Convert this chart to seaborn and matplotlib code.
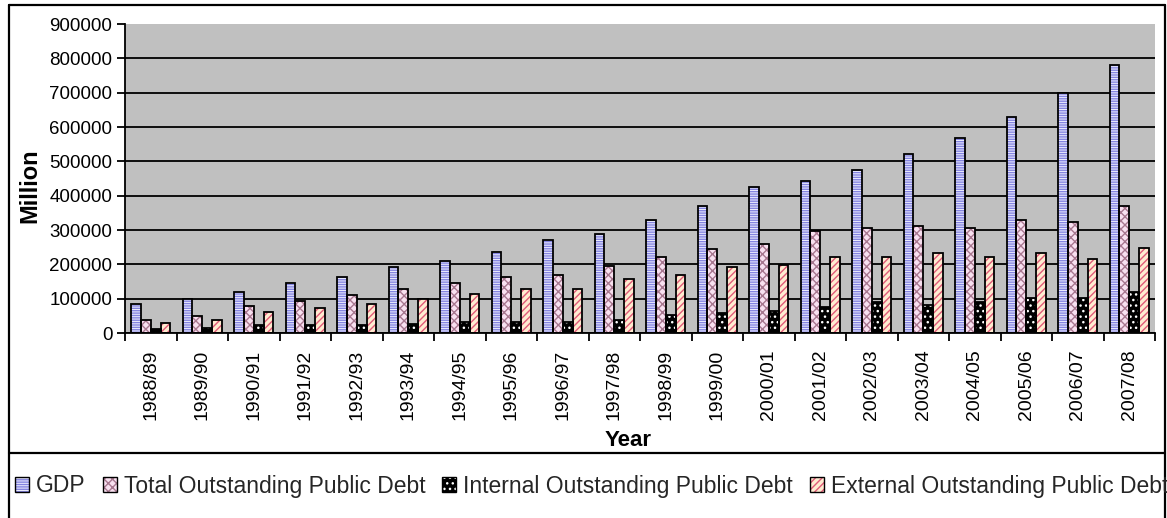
import numpy as np
import pandas as pd
import matplotlib
matplotlib.use("Agg")
import matplotlib.pyplot as plt
import seaborn as sns
from matplotlib.patches import Rectangle
from matplotlib.lines import Line2D
from matplotlib.legend_handler import HandlerBase

# ---- data (million) ----
years = ["1988/89", "1989/90", "1990/91", "1991/92", "1992/93", "1993/94", "1994/95",
         "1995/96", "1996/97", "1997/98", "1998/99", "1999/00", "2000/01", "2001/02",
         "2002/03", "2003/04", "2004/05", "2005/06", "2006/07", "2007/08"]
gdp = [85000, 100000, 119000, 147000, 163000, 192000, 209000, 237000, 272000, 289000,
       329000, 369000, 425000, 442000, 476000, 522000, 568000, 630000, 699000, 782000]
total_debt = [38000, 50000, 78000, 94000, 112000, 129000, 146000, 164000, 169000, 196000,
              221000, 244000, 259000, 296000, 305000, 312000, 305000, 329000, 323000, 370000]
internal_debt = [11000, 16000, 22000, 22000, 22000, 27000, 33000, 33000, 33000, 39000,
                 51000, 57000, 64000, 77000, 89000, 82000, 89000, 101000, 101000, 120000]
external_debt = [28000, 38000, 61000, 73000, 85000, 99000, 114000, 129000, 129000, 158000,
                 170000, 192000, 197000, 221000, 221000, 233000, 221000, 233000, 216000, 249000]
series_names = ["GDP", "Total Outstanding Public Debt",
                "Internal Outstanding Public Debt", "External Outstanding Public Debt"]
yticks = list(range(0, 900001, 100000))

# fill colour, hatch pattern and hatch colour for each series
styles = {
    "GDP": ("#EEEEFF", "-------", "#8484E0"),
    "Total Outstanding Public Debt": ("#F8E0F0", "xxxx", "#A87890"),
    "Internal Outstanding Public Debt": ("#000000", "...", "#FFFFFF"),
    "External Outstanding Public Debt": ("#FFEBD0", "/////", "#E05A78"),
}

sns.set_theme(style="white")
plt.rcParams["font.family"] = ["Liberation Sans", "DejaVu Sans"]
plt.rcParams["hatch.linewidth"] = 1.0

df = pd.DataFrame({
    "Year": np.tile(years, 4),
    "Series": np.repeat(series_names, len(years)),
    "Value": np.concatenate([gdp, total_debt, internal_debt, external_debt]),
})

W, H = 1167, 518
fig = plt.figure(figsize=(W / 100, H / 100), dpi=100)
fig.patch.set_facecolor("white")


def fx(px):
    return px / W


def fy(py):
    return 1 - py / H


ax = fig.add_axes([fx(125), fy(333), (1155 - 125) / W, (333 - 24) / H])
sns.barplot(data=df, x="Year", y="Value", hue="Series", order=years,
            hue_order=series_names, width=0.76, errorbar=None, saturation=1,
            legend=False, ax=ax)

# hatched fills with a separate black outline on top
for name, cont in zip(series_names, ax.containers):
    face, hatch, hcol = styles[name]
    for bar in cont:
        bar.set_facecolor(face)
        bar.set_edgecolor(hcol)
        bar.set_hatch(hatch)
        bar.set_linewidth(0)
        ax.add_patch(Rectangle((bar.get_x(), bar.get_y()), bar.get_width(), bar.get_height(),
                               fill=False, edgecolor="black", linewidth=1.3, zorder=3))

ax.set_facecolor("#C0C0C0")
ax.set_xlim(-0.5, len(years) - 0.5)
ax.set_ylim(0, 900000)
ax.set_yticks(yticks)
ax.set_yticklabels([str(v) for v in yticks])
ax.yaxis.grid(True, color="black", linewidth=1.3)
ax.get_ygridlines()[-1].set_visible(False)
ax.set_axisbelow(True)
for side in ("top", "right"):
    ax.spines[side].set_visible(False)
for side in ("left", "bottom"):
    ax.spines[side].set_color("black")
    ax.spines[side].set_linewidth(1.3)
    ax.spines[side].set_zorder(4)

ax.tick_params(axis="y", left=True, direction="out", length=6, width=1.3, color="black",
               labelsize=13.5, pad=3, labelcolor="black")
ax.set_xticks(np.arange(-0.5, len(years), 1), minor=True)
ax.tick_params(axis="x", which="minor", bottom=True, direction="out", length=6, width=1.3,
               color="black")
ax.tick_params(axis="x", which="major", bottom=True, length=0, pad=12, labelsize=14,
               labelrotation=90, labelcolor="black")
ax.set_xlabel("")
ax.set_ylabel("")

fig.text(fx(30), fy(186), "Million", rotation=90, ha="center", va="center",
         fontsize=17, fontweight="bold", color="black")
fig.text(fx(628), fy(440), "Year", ha="center", va="center",
         fontsize=16, fontweight="bold", color="black")

# chart frame and legend separator
frame = dict(transform=fig.transFigure, color="black", linewidth=1.6)
fig.add_artist(Line2D([fx(9), fx(9)], [fy(5), 0], **frame))
fig.add_artist(Line2D([fx(9), fx(1165)], [fy(5), fy(5)], **frame))
fig.add_artist(Line2D([fx(1165), fx(1165)], [fy(5), 0], **frame))
fig.add_artist(Line2D([fx(9), fx(1165)], [fy(453), fy(453)], **frame))


class HatchHandler(HandlerBase):
    def create_artists(self, legend, orig_handle, xdescent, ydescent, width, height,
                       fontsize, trans):
        fill = Rectangle((-xdescent, -ydescent), width, height,
                         facecolor=orig_handle.get_facecolor(),
                         edgecolor=orig_handle.get_edgecolor(),
                         hatch=orig_handle.get_hatch(), linewidth=0, transform=trans)
        edge = Rectangle((-xdescent, -ydescent), width, height, fill=False,
                         edgecolor="black", linewidth=1.0, transform=trans)
        return [fill, edge]


handles = []
for name in series_names:
    face, hatch, hcol = styles[name]
    handles.append(Rectangle((0, 0), 1, 1, facecolor=face, edgecolor=hcol, hatch=hatch))

fig.legend(handles, series_names, loc="center left", bbox_to_anchor=(fx(15), fy(486)),
           ncol=4, frameon=False, fontsize=16.5, handlelength=0.61, handleheight=0.61,
           handletextpad=0.31, columnspacing=0.74, borderpad=0, borderaxespad=0,
           handler_map={Rectangle: HatchHandler()})

fig.savefig("out.png", dpi=100)
